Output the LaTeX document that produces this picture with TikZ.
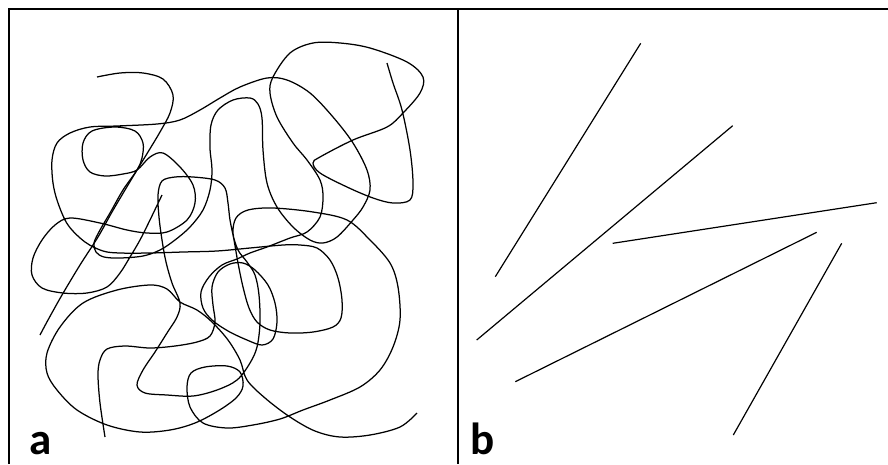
\documentclass[tikz,border=0pt]{standalone}
\usepackage{fontspec}
\setsansfont{Carlito}
\usetikzlibrary{calc}
\tikzset{coil/.style={line width=1.25pt,smooth,tension=0.55},
  rod/.style={line width=1.2pt},
  panel/.style={font=\sffamily\bfseries\fontsize{45}{50}\selectfont,inner sep=0pt,anchor=base west}}

\begin{document}
\begin{tikzpicture}[x=1pt,y=-1pt]
\useasboundingbox (0,0) rectangle (888,464);
% frame and divider
\draw[line width=2.5pt] (9,464)--(9,9)--(888,9);
\draw[line width=1.5pt] (458,9)--(458,464);
% a: tangled coil
\draw[coil] plot coordinates {(97,77)(120,73)(143,73)(163,79)(173,95)(170,113)(160,132)(148,152)(137,170)(125,190)(112,212)(98,237)(80,265)(62,295)(48,320)(40,335)};
\draw[coil] plot coordinates {(162,195)(150,220)(140,240)(130,257)(120,273)(107,287)(87,293)(63,293)(42,288)(32,275)(33,258)(42,240)(55,225)(70,218)(100,223)(127,230)(147,233)(167,232)(187,220)(195,203)(193,185)(180,167)(163,153)(150,157)(137,170)(123,174)(105,176)(90,172)(83,160)(83,143)(92,131)(115,127)(135,131)(143,143)(142,158)(137,170)(123,190)(110,213)(100,230)(94,243)(96,252)(104,257)(120,258)(143,256)(160,250)(175,240)(190,227)(203,210)(210,190)(212,170)(210,148)(211,125)(218,110)(233,100)(250,98)(258,104)(262,118)(263,150)(267,183)(277,207)(293,227)(310,240)(323,243)(337,237)(353,220)(363,207)(370,190)(367,170)(353,143)(333,117)(310,93)(287,80)(267,78)(240,87)(220,98)(200,110)(180,120)(157,124)(117,126)(90,127)(70,133)(57,143)(52,160)(53,183)(58,203)(68,225)(85,242)(103,251)(120,253)(150,253)(183,252)(217,251)(250,248)(283,245)(300,245)(317,248)(330,260)(338,278)(342,300)(341,318)(333,327)(313,332)(290,333)(270,330)(257,322)(249,308)(243,287)(238,263)(234,240)(230,220)(228,203)(225,188)(215,180)(193,177)(175,177)(162,181)(158,195)(159,217)(162,240)(166,262)(172,283)(180,303)(177,317)(167,333)(155,352)(143,370)(137,385)(145,393)(167,395)(193,396)(217,390)(237,380)(250,363)(257,347)(260,323)(259,295)(255,275)(247,262)(238,250)(233,233)(236,218)(248,210)(273,208)(313,212)(347,220)(370,240)(390,263)(398,287)(400,320)(393,347)(380,370)(360,387)(330,400)(303,410)(280,419)(253,425)(227,428)(203,423)(190,407)(187,387)(191,373)(205,367)(227,366)(240,372)(243,386)(236,398)(218,411)(195,423)(170,430)(140,432)(107,425)(77,410)(57,390)(47,373)(47,353)(60,327)(83,303)(117,290)(150,285)(167,289)(180,302)(197,310)(212,322)(228,340)(240,360)(247,380)(265,398)(290,417)(315,431)(340,437)(370,435)(400,427)(417,413)};
\draw[coil] plot coordinates {(387,63)(393,83)(402,110)(410,150)(413,183)(410,200)(393,203)(373,198)(347,187)(320,173)(313,163)(320,157)(353,140)(387,127)(403,113)(420,93)(423,77)(407,62)(370,48)(340,43)(313,43)(290,53)(273,77)(270,93)(277,117)(293,143)(307,160)(320,180)(323,197)(320,217)(307,232)(290,238)(267,247)(250,253)(237,259)(222,265)(209,277)(201,292)(203,308)(212,320)(228,331)(247,340)(262,345)(273,339)(277,322)(275,303)(268,285)(255,270)(243,263)(230,264)(218,272)(212,287)(213,305)(215,322)(210,336)(197,342)(175,346)(150,348)(125,346)(107,349)(100,360)(98,375)(100,403)(105,437)};
% b: straight rods
\draw[rod] (640.7,43.3)--(495.3,276.7);
\draw[rod] (732.7,125.7)--(476.7,340);
\draw[rod] (612.7,243.3)--(876.7,202.7);
\draw[rod] (816.7,232.3)--(515.3,381.7);
\draw[rod] (841.7,243.3)--(733.3,435);
% panel letters
\node[panel] (labA) at (29,454) {a};
\node[panel] (labB) at (470,454) {b};
\end{tikzpicture}
\end{document}
